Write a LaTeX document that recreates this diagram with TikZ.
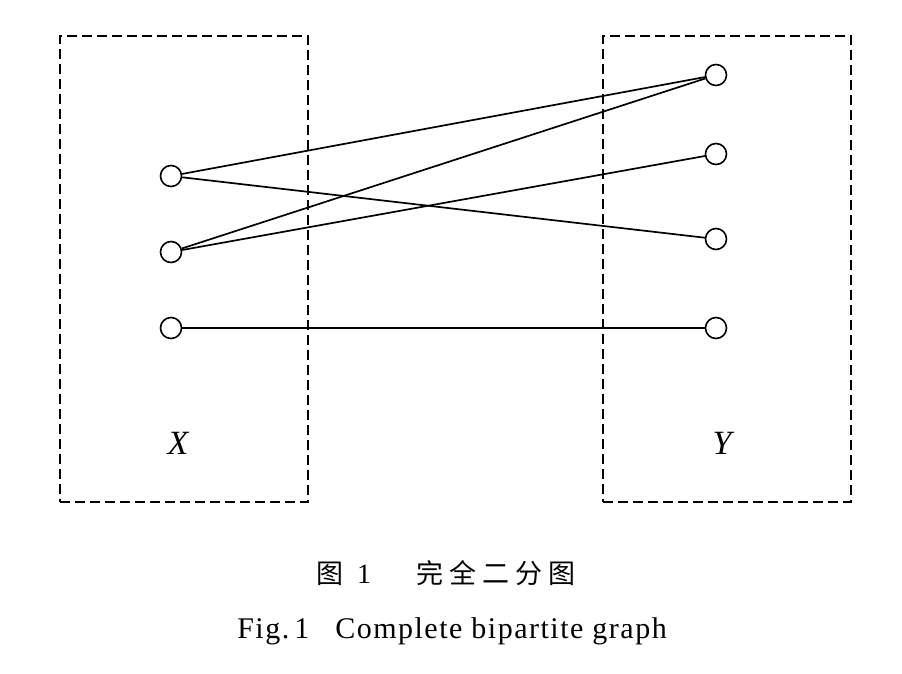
\documentclass[tikz,border=0pt]{standalone}
\usepackage{fontspec}
\setmainfont{Liberation Serif}
\newfontfamily\cjk{Noto Sans CJK SC}
\newfontfamily\capfont[LetterSpace=5]{Liberation Serif}
\begin{document}
\begin{tikzpicture}[x=1pt,y=-1pt,
  vtx/.style={circle,draw,line width=1.6pt,minimum size=21pt,inner sep=0pt},
  part/.style={draw,dash pattern=on 10pt off 5pt,line width=1.5pt,minimum width=248pt,minimum height=466pt,inner sep=0pt},
  edge/.style={line width=1.7pt},
  lbl/.style={font=\fontsize{34}{38}\selectfont\itshape,inner sep=0pt}]
\useasboundingbox (0,0) rectangle (902,673);
\node[part] (PX) at (184,269) {};
\node[part] (PY) at (727,269) {};
\node[vtx] (x1) at (171,176) {};
\node[vtx] (x2) at (171,252) {};
\node[vtx] (x3) at (171,328) {};
\node[vtx] (y1) at (716,75) {};
\node[vtx] (y2) at (716,154) {};
\node[vtx] (y3) at (716,239) {};
\node[vtx] (y4) at (716,328) {};
\draw[edge] (x1) -- (y1);
\draw[edge] (x1) -- (y3);
\draw[edge] (x2) -- (y1);
\draw[edge] (x2) -- (y2);
\draw[edge] (x3) -- (y4);
\node[lbl] (LX) at (178,443) {X};
\node[lbl] (LY) at (722,443) {Y};
\node[font=\fontsize{27}{30}\selectfont,inner sep=0pt,anchor=base west] (cap1) at (316,583)
  {{\cjk 图}\hspace{14pt}{\fontsize{28}{30}\selectfont 1}\hspace{45pt}{\cjk 完\hspace{6pt}全\hspace{6pt}二\hspace{6pt}分\hspace{6pt}图}};
\node[font=\fontsize{30}{34}\selectfont\capfont,inner sep=0pt,anchor=base] (cap2) at (452,638) {Fig.\,1\hspace{26pt}Complete bipartite graph};
\end{tikzpicture}
\end{document}
